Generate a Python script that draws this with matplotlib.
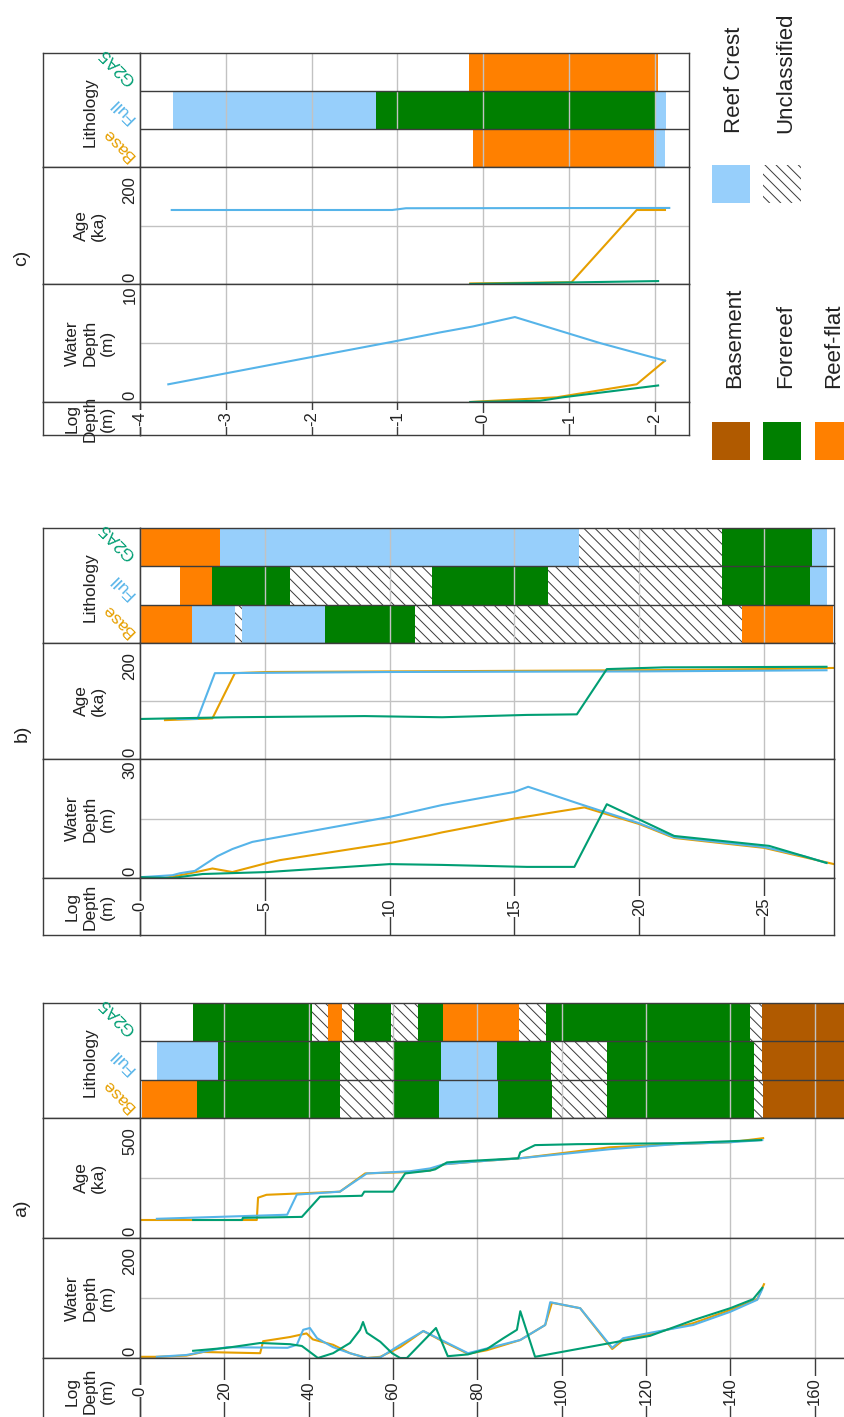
import matplotlib.pyplot as plt
from matplotlib.patches import Rectangle

plt.rcParams['font.family'] = ['Liberation Sans', 'DejaVu Sans']
plt.rcParams['hatch.linewidth'] = 0.7

W, H = 845, 1417          # canvas in pixels (dpi 100)
LEFT, SPLIT = 43, 140     # header column of every panel
INK = '#222222'
FRAME = '#3c3c3c'
GRID = '#c2c2c2'

# --- facies / series styling ---
BA, FR, RF, RC, UN = 'Basement', 'Forereef', 'Reef-flat', 'Reef Crest', 'Unclassified'
FACIES_COLOR = {BA: '#b05a00', FR: '#007f00', RF: '#ff8000', RC: '#97cffb', UN: 'white'}
HATCH = '\\\\\\'
SERIES = ['Base', 'Full', 'G2A5']
SERIES_COLOR = {'Base': '#e69f00', 'Full': '#56b4e9', 'G2A5': '#009e73'}

# ======================= panel a =======================
a_ticks = [0, 20, 40, 60, 80, 100, 120, 140, 160]
a_lith_base_bounds = [0.4, 13.6, 47.4, 60.3, 71.0, 84.9, 97.8, 110.8, 145.7, 147.8, 170]
a_lith_base_facies = [RF, FR, UN, FR, RC, FR, UN, FR, UN, BA]
a_lith_full_bounds = [4.0, 18.4, 47.4, 60.3, 71.4, 84.7, 97.5, 110.8, 145.7, 147.6, 170]
a_lith_full_facies = [RC, FR, UN, FR, RC, FR, UN, FR, UN, BA]
a_lith_g2a5_bounds = [12.6, 40.8, 44.6, 47.9, 50.8, 59.5, 66.0, 71.9, 89.9, 96.3, 144.7, 147.6, 170]
a_lith_g2a5_facies = [FR, UN, RF, UN, FR, UN, FR, RF, UN, FR, UN, BA]

a_age_base_d = [0, 27.7, 28.0, 30.0, 39.5, 47.4, 53.4, 64, 68.8, 72, 80, 90, 111.5, 127, 140, 147.8]
a_age_base_v = [75, 75, 168, 180, 187, 193, 269, 275, 281, 307, 319, 332, 378, 391, 399, 416]
a_age_full_d = [4.0, 34.9, 37.2, 47.4, 53.8, 64, 68.8, 72, 80, 90, 111.5, 127, 140, 147.6]
a_age_full_v = [80, 97, 181, 193, 269, 278, 290, 307, 319, 332, 370, 391, 399, 408]
a_age_g2a5_d = [12.6, 24.2, 24.4, 38.4, 42.7, 52.6, 53.2, 60.0, 62.9, 68.8, 70.0, 72.8, 75.9,
                89.7, 90.2, 93.7, 103.7, 127.4, 147.3]
a_age_g2a5_v = [75, 75, 84, 88, 172, 176, 193, 193, 269, 281, 286, 315, 319, 332, 357, 387,
                391, 395, 408]

a_wd_base_d = [0, 4, 11, 15, 28.5, 29.2, 35.6, 39.5, 41, 45.8, 49.8, 53.8, 57, 61.7, 67.2, 72,
               77.8, 82.3, 90.2, 96.1, 97.7, 104.4, 112, 114.6, 121, 131.2, 140, 146.4, 148]
a_wd_base_v = [2, 2, 4, 10, 8, 28, 35, 41, 31, 22, 8, 0, 2, 18, 45, 27, 7, 13, 30, 55, 92, 83,
               15, 30, 40, 58, 80, 98, 123]
a_wd_full_d = [4, 11, 20.6, 35, 37.2, 38.7, 40.3, 42, 45.8, 49.8, 53.8, 57, 61.7, 67.2, 77.8,
               90.2, 96.1, 97.3, 104.4, 112, 114.6, 121, 131.2, 140, 146.4, 147.6]
a_wd_full_v = [2, 5, 18, 17, 22, 47, 50, 33, 18, 8, 0, 1, 22, 45, 8, 30, 55, 93, 83, 17, 33, 42,
               55, 77, 97, 115]
a_wd_g2a5_d = [12.6, 20.6, 28.5, 35.6, 38.4, 42.2, 45.8, 49.8, 52.2, 52.9, 53.8, 57, 59.8, 61.7,
               63.3, 70.2, 73, 77.8, 82.3, 86.2, 89.4, 90.2, 93.7, 121, 131.2, 140, 145.4, 147.6]
a_wd_g2a5_v = [12, 17, 25, 23, 20, 0, 8, 25, 47, 60, 42, 27, 8, 0, 0, 50, 3, 6, 15, 33, 47, 78,
               2, 37, 63, 83, 98, 117]

# ======================= panel b =======================
b_ticks = [0, 5, 10, 15, 20, 25]
b_lith_base_bounds = [0, 2.1, 3.8, 4.1, 7.4, 11.0, 24.1, 27.75]
b_lith_base_facies = [RF, RC, UN, RC, FR, UN, RF]
b_lith_full_bounds = [1.6, 2.9, 6.0, 11.7, 16.35, 23.3, 26.85, 27.5]
b_lith_full_facies = [RF, FR, UN, FR, UN, FR, RC]
b_lith_g2a5_bounds = [0, 3.2, 17.6, 23.3, 26.9, 27.5]
b_lith_g2a5_facies = [RF, RC, UN, FR, RC]

b_age_base_d = [1.0, 2.9, 3.8, 5.1, 10, 15, 20, 25, 27.8]
b_age_base_v = [67, 70, 148, 150, 151, 152, 153, 155, 157]
b_age_full_d = [1.5, 2.3, 3.0, 10, 20, 27.5]
b_age_full_v = [69, 69, 148, 150, 151, 153]
b_age_g2a5_d = [0, 3.7, 9.0, 12.1, 15.5, 17.5, 18.7, 21.0, 27.5]
b_age_g2a5_v = [69, 72, 74, 72, 76, 77, 155, 158, 159]

b_wd_base_d = [0, 1.0, 1.6, 2.4, 2.9, 3.7, 5.1, 5.6, 10, 11.6, 12.1, 15, 17.8, 20, 21.4, 25, 27.8]
b_wd_base_v = [0, 0, 0.7, 1.7, 2.4, 1.5, 3.8, 4.5, 8.8, 10.8, 11.5, 15.0, 17.8, 13.6, 10.1, 7.6, 3.5]
b_wd_full_d = [0, 1.3, 1.6, 2.2, 3.1, 3.7, 4.5, 5.1, 6.4, 10, 12.1, 15, 15.55, 17.5, 20, 21.4,
               25, 26.6, 27.5]
b_wd_full_v = [0.2, 0.7, 1.2, 1.8, 5.5, 7.3, 9.1, 9.8, 11.3, 15.4, 18.4, 21.7, 23.0, 18.9, 13.8,
               10.3, 7.8, 5.5, 3.8]
b_wd_g2a5_d = [0, 1.3, 2.5, 5.1, 10, 12.1, 15.5, 17.4, 18.7, 21.4, 25.2, 27.5]
b_wd_g2a5_v = [0.2, 0, 1.0, 1.5, 3.5, 3.3, 2.8, 2.8, 18.6, 10.6, 8.1, 3.8]

# ======================= panel c =======================
c_ticks = [-4, -3, -2, -1, 0, 1, 2]
c_lith_base_bounds = [-0.12, 1.99, 2.12]
c_lith_base_facies = [RF, RC]
c_lith_full_bounds = [-3.62, -1.25, 2.0, 2.13]
c_lith_full_facies = [RC, FR, RC]
c_lith_g2a5_bounds = [-0.17, 2.04]
c_lith_g2a5_facies = [RF]

c_age_base_d = [-0.15, 1.03, 1.79, 2.12]
c_age_base_v = [1, 3, 126.5, 126.5]
c_age_full_d = [-3.63, -1.06, -0.9, 2.17]
c_age_full_v = [126.5, 126.5, 129.5, 130]
c_age_g2a5_d = [-0.15, 2.04]
c_age_g2a5_v = [0, 5]

c_wd_base_d = [-0.15, 0.86, 1.79, 2.12]
c_wd_base_v = [0, 0.4, 1.5, 3.5]
c_wd_full_d = [-3.67, -2.08, -1.06, -0.5, -0.12, 0.37, 1.36, 2.12]
c_wd_full_v = [1.5, 3.7, 5.1, 5.9, 6.4, 7.2, 5.0, 3.5]
c_wd_g2a5_d = [-0.15, 0.66, 0.93, 2.04]
c_wd_g2a5_v = [0, 0.1, 0.4, 1.4]

fig = plt.figure(figsize=(W / 100, H / 100), dpi=100)


def fx(x):
    return x / W


def fy(y):
    return 1 - y / H


def px_axes(x0, y0, x1, y1):
    ax = fig.add_axes([x0 / W, 1 - y1 / H, (x1 - x0) / W, (y1 - y0) / H])
    for s in ax.spines.values():
        s.set_color(FRAME)
        s.set_linewidth(1.0)
    ax.tick_params(length=0, labelbottom=False, labelleft=False)
    return ax


def draw_panel(tag, right, rows, xlim, ticks, age_max, wd_max, lith, ages, wds):
    top, lith_bot, age_bot, wd_bot, bottom = rows
    lane_h = (lith_bot - top) / 3

    # header column
    for ya, yb in zip(rows[:-1], rows[1:]):
        h = px_axes(LEFT, ya, SPLIT, yb)
        h.set_xticks([])
        h.set_yticks([])

    def head(y, s):
        fig.text(fx(90), fy(y), s, rotation=90, ha='center', va='center',
                 multialignment='center', fontsize=12.5, color=INK)

    head((top + lith_bot) / 2 + 2, 'Lithology')
    head((lith_bot + age_bot) / 2, 'Age\n(ka)')
    head((age_bot + wd_bot) / 2, 'Water\nDepth\n(m)')
    head((wd_bot + bottom) / 2, 'Log\nDepth\n(m)')

    def range_labels(ya, yb, vmax):
        s = f'{vmax:g}'
        off = 23 if len(s) >= 3 else 11
        fig.text(fx(130), fy(ya + off), s, rotation=90, ha='center', va='center',
                 fontsize=12, color=INK)
        fig.text(fx(130), fy(yb - 7), '0', rotation=90, ha='center', va='center',
                 fontsize=12, color=INK)

    range_labels(lith_bot, age_bot, age_max)
    range_labels(age_bot, wd_bot, wd_max)

    # lane names, slanted
    for i, name in enumerate(SERIES):
        lane_bottom = lith_bot - i * lane_h
        fig.text(fx(136), fy(lane_bottom - 12), name, rotation=135, rotation_mode='anchor',
                 ha='left', va='baseline', fontsize=12.5, color=SERIES_COLOR[name])

    fig.text(fx(22), fy(top + 205), tag, rotation=90, ha='center', va='center',
             fontsize=14, color=INK)

    # lithology lanes
    ax = px_axes(SPLIT, top, right, lith_bot)
    ax.set_xlim(xlim)
    ax.set_ylim(0, 3)
    for i, (bounds, facies) in enumerate(lith):
        for d0, d1, f in zip(bounds[:-1], bounds[1:], facies):
            if f == UN:
                ax.barh(i + 0.5, d1 - d0, left=d0, height=1, color='white', hatch=HATCH,
                        edgecolor='#3a3a3a', linewidth=0)
            else:
                ax.barh(i + 0.5, d1 - d0, left=d0, height=1, color=FACIES_COLOR[f],
                        linewidth=0)
    ax.axhline(1, color=FRAME, lw=1.0)
    ax.axhline(2, color=FRAME, lw=1.0)
    ax.set_xticks(ticks)
    ax.set_yticks([])
    ax.grid(axis='x', color=GRID, lw=1.0)

    # age and water-depth tracks
    for (ya, yb), vmax, series in [((lith_bot, age_bot), age_max, ages),
                                   ((age_bot, wd_bot), wd_max, wds)]:
        t = px_axes(SPLIT, ya, right, yb)
        t.set_xlim(xlim)
        t.set_ylim(0, vmax)
        t.set_xticks(ticks)
        t.set_yticks([vmax / 2])
        t.grid(color=GRID, lw=1.0)
        for name, (d, v) in zip(SERIES, series):
            t.plot(d, v, color=SERIES_COLOR[name], lw=1.5)

    # depth scale with ticks running through the labels
    s = px_axes(SPLIT, wd_bot, right, bottom)
    s.set_xlim(xlim)
    s.set_ylim(0, 1)
    s.set_xticks([])
    s.set_yticks([])
    s.vlines(ticks, 0, 1, colors=FRAME, lw=1.0)
    for tk in ticks:
        s.text(tk, 0.5, f'{tk:g}', rotation=90, ha='center', va='center', fontsize=12,
               color=INK, bbox=dict(facecolor='white', edgecolor='none', pad=1.0))


draw_panel('a)', 850, [1003, 1118, 1238, 1358, 1424], (0, 168.4), a_ticks, 500, 200,
           [(a_lith_base_bounds, a_lith_base_facies),
            (a_lith_full_bounds, a_lith_full_facies),
            (a_lith_g2a5_bounds, a_lith_g2a5_facies)],
           [(a_age_base_d, a_age_base_v), (a_age_full_d, a_age_full_v),
            (a_age_g2a5_d, a_age_g2a5_v)],
           [(a_wd_base_d, a_wd_base_v), (a_wd_full_d, a_wd_full_v),
            (a_wd_g2a5_d, a_wd_g2a5_v)])

draw_panel('b)', 834, [528, 643, 759, 878, 935], (0, 27.8), b_ticks, 200, 30,
           [(b_lith_base_bounds, b_lith_base_facies),
            (b_lith_full_bounds, b_lith_full_facies),
            (b_lith_g2a5_bounds, b_lith_g2a5_facies)],
           [(b_age_base_d, b_age_base_v), (b_age_full_d, b_age_full_v),
            (b_age_g2a5_d, b_age_g2a5_v)],
           [(b_wd_base_d, b_wd_base_v), (b_wd_full_d, b_wd_full_v),
            (b_wd_g2a5_d, b_wd_g2a5_v)])

draw_panel('c)', 689, [53, 167, 284, 402, 435], (-4, 2.4), c_ticks, 200, 10,
           [(c_lith_base_bounds, c_lith_base_facies),
            (c_lith_full_bounds, c_lith_full_facies),
            (c_lith_g2a5_bounds, c_lith_g2a5_facies)],
           [(c_age_base_d, c_age_base_v), (c_age_full_d, c_age_full_v),
            (c_age_g2a5_d, c_age_g2a5_v)],
           [(c_wd_base_d, c_wd_base_v), (c_wd_full_d, c_wd_full_v),
            (c_wd_g2a5_d, c_wd_g2a5_v)])

# facies key (patch x, patch y, text baseline x, text start y)
key = [(BA, 712, 422, 740, 388), (FR, 763, 422, 791, 388), (RF, 815, 422, 839, 388),
       (RC, 712, 165, 740, 133), (UN, 763, 165, 791, 133)]
for name, px, py, tx, ty in key:
    if name == UN:
        r = Rectangle((fx(px), fy(py + 38)), 38 / W, 38 / H, transform=fig.transFigure,
                      facecolor='white', edgecolor='#3a3a3a', hatch=HATCH, linewidth=0)
    else:
        r = Rectangle((fx(px), fy(py + 38)), 38 / W, 38 / H, transform=fig.transFigure,
                      facecolor=FACIES_COLOR[name], linewidth=0)
    fig.add_artist(r)
    fig.text(fx(tx), fy(ty), name, rotation=90, rotation_mode='anchor', ha='left',
             va='baseline', fontsize=16, color=INK)

fig.savefig('out.png', dpi=100)
